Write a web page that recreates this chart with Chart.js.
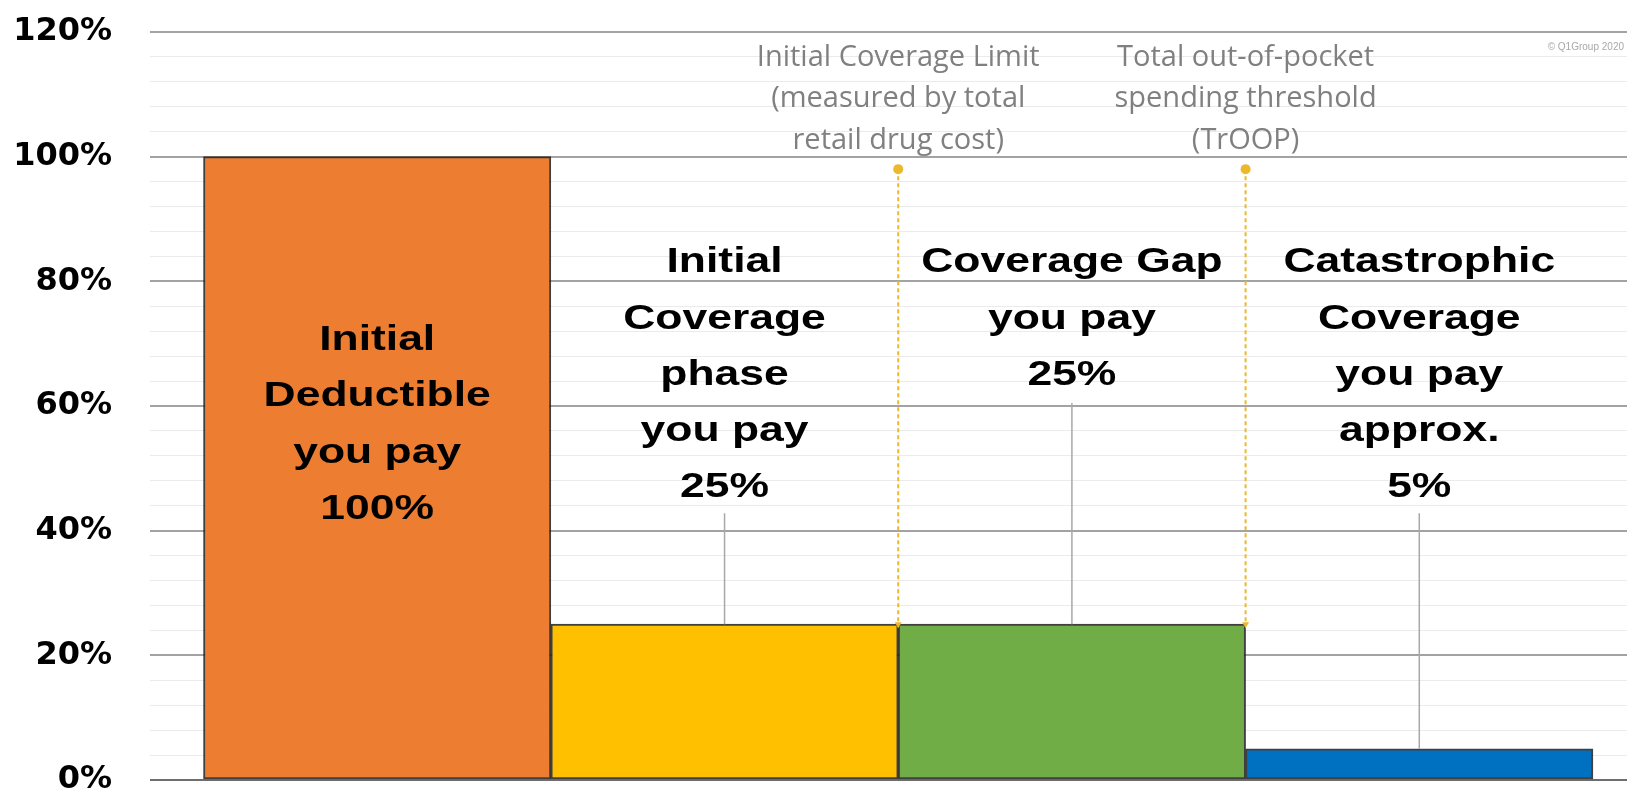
<!DOCTYPE html>
<html>
<head>
<meta charset="utf-8">
<script src="https://cdn.jsdelivr.net/npm/chart.js@4.4.1/dist/chart.umd.min.js"></script>
<style>
  html, body { margin: 0; padding: 0; background: #ffffff; overflow: hidden; }
  #wrap { width: 1632px; height: 792px; position: relative; }
</style>
</head>
<body>
<div id="wrap"><canvas id="chart"></canvas></div>
<script>
// ---------- data ----------
const phaseNames = ['Initial Deductible', 'Initial Coverage phase', 'Coverage Gap', 'Catastrophic Coverage'];
const phasePositions = [1, 2, 3, 4];
const youPayPercent = [100, 25, 25, 5];
const barLabelLines = [
  ['Initial', 'Deductible', 'you pay', '100%'],
  ['Initial', 'Coverage', 'phase', 'you pay', '25%'],
  ['Coverage Gap', 'you pay', '25%'],
  ['Catastrophic', 'Coverage', 'you pay', 'approx.', '5%']
];
const calloutFrom = [null, 42.8, 60.5, 42.8];          // value where each callout leader starts
const thresholdPositions = [2.5, 3.5];                // boundaries between phases
const thresholdTop = 98;
const thresholdLabels = [
  ['Initial Coverage Limit', '(measured by total', 'retail drug cost)'],
  ['Total out-of-pocket', 'spending threshold', '(TrOOP)']
];
const yTickStep = 4;
const yMajorStep = 20;
const yMax = 120;

// ---------- styles / layout ----------
const barColors = ['#ED7D31', '#FFC000', '#70AD47', '#0070C0'];
const labelFirstBaseline = [69.0, 81.45, 81.45, 81.45]; // in % units
const labelLineHeight = 56.3;
const thresholdTextBaseline = 114.6;
const thresholdLineHeight = 41.5;
const gold = '#EDB92C';

const datasets = [];
datasets.push({
  type: 'bar',
  label: 'You pay',
  data: phasePositions.map((x, i) => ({ x: x, y: youPayPercent[i] })),
  backgroundColor: barColors,
  borderColor: 'rgba(30,30,30,0.85)',
  borderWidth: 2,
  borderSkipped: false,
  barPercentage: 1,
  categoryPercentage: 1,
  order: 3
});
calloutFrom.forEach((v, i) => {
  if (v === null) return;
  datasets.push({
    type: 'line',
    label: 'callout ' + phaseNames[i],
    data: [{ x: phasePositions[i], y: v }, { x: phasePositions[i], y: youPayPercent[i] }],
    borderColor: '#a8a8a8',
    borderWidth: 1.5,
    pointRadius: 0,
    order: 2
  });
});
thresholdPositions.forEach((t, k) => {
  const left = youPayPercent[Math.floor(t) - 1];
  const right = youPayPercent[Math.ceil(t) - 1];
  datasets.push({
    type: 'line',
    label: 'threshold ' + k,
    data: [{ x: t, y: thresholdTop }, { x: t, y: Math.max(left, right) }],
    borderColor: gold,
    borderWidth: 2,
    borderDash: [4, 3],
    pointStyle: ['circle', 'triangle'],
    pointRotation: [0, 180],
    pointRadius: [5, 4],
    pointBackgroundColor: gold,
    pointBorderColor: gold,
    pointBorderWidth: 0,
    order: 1
  });
});

const textPlugin = {
  id: 'phaseText',
  afterDatasetsDraw(chart) {
    const { ctx, scales: { x, y }, chartArea } = chart;
    const meta = chart.getDatasetMeta(0);
    ctx.save();
    ctx.fillStyle = '#000';
    ctx.textAlign = 'center';
    ctx.textBaseline = 'alphabetic';
    ctx.font = 'bold 35px "Liberation Sans", Arial, sans-serif';
    barLabelLines.forEach((lines, i) => {
      const cx = meta.data[i].x;
      const by = y.getPixelForValue(labelFirstBaseline[i]);
      lines.forEach((t, k) => {
        ctx.save();
        ctx.translate(cx, by + k * labelLineHeight);
        ctx.scale(1.27, 1);
        ctx.fillText(t, 0, 0);
        ctx.restore();
      });
    });
    ctx.fillStyle = '#808080';
    ctx.font = '29px "Open Sans", sans-serif';
    thresholdLabels.forEach((lines, k) => {
      const cx = x.getPixelForValue(thresholdPositions[k]);
      const by = y.getPixelForValue(thresholdTextBaseline);
      lines.forEach((t, j) => ctx.fillText(t, cx, by + j * thresholdLineHeight));
    });
    ctx.fillStyle = '#a8a8a8';
    ctx.font = '10px "Liberation Sans", sans-serif';
    ctx.textAlign = 'right';
    ctx.fillText('\u00a9 Q1Group 2020', chartArea.right - 3, 50);
    ctx.restore();
  }
};

new Chart(document.getElementById('chart'), {
  type: 'bar',
  data: { datasets: datasets },
  options: {
    responsive: true,
    maintainAspectRatio: false,
    animation: false,
    layout: { padding: { top: 32, bottom: 12, left: 0, right: 0 } },
    plugins: { legend: { display: false }, tooltip: { enabled: false } },
    scales: {
      x: {
        type: 'linear',
        display: false,
        offset: false,
        min: 0.346,
        max: 4.598,
        afterBuildTicks(s) { s.ticks = phasePositions.map(v => ({ value: v })); }
      },
      y: {
        min: 0,
        max: yMax,
        border: { display: false },
        ticks: {
          stepSize: yTickStep,
          autoSkip: false,
          padding: 38,
          color: '#000',
          font: { family: '"DejaVu Sans", sans-serif', weight: 'bold', size: 32 },
          callback: (v) => (v % yMajorStep === 0 ? v + '%' : '')
        },
        grid: {
          drawTicks: false,
          color: (c) => (c.tick.value === 0 ? '#6e6e6e' : (c.tick.value % yMajorStep === 0 ? '#a3a3a3' : '#ebebeb')),
          lineWidth: (c) => (c.tick.value % yMajorStep === 0 ? 2 : 1)
        },
        afterFit(s) { s.width = 150; s.paddingTop = 0; s.paddingBottom = 0; }
      }
    }
  },
  plugins: [textPlugin]
});
</script>
</body>
</html>
